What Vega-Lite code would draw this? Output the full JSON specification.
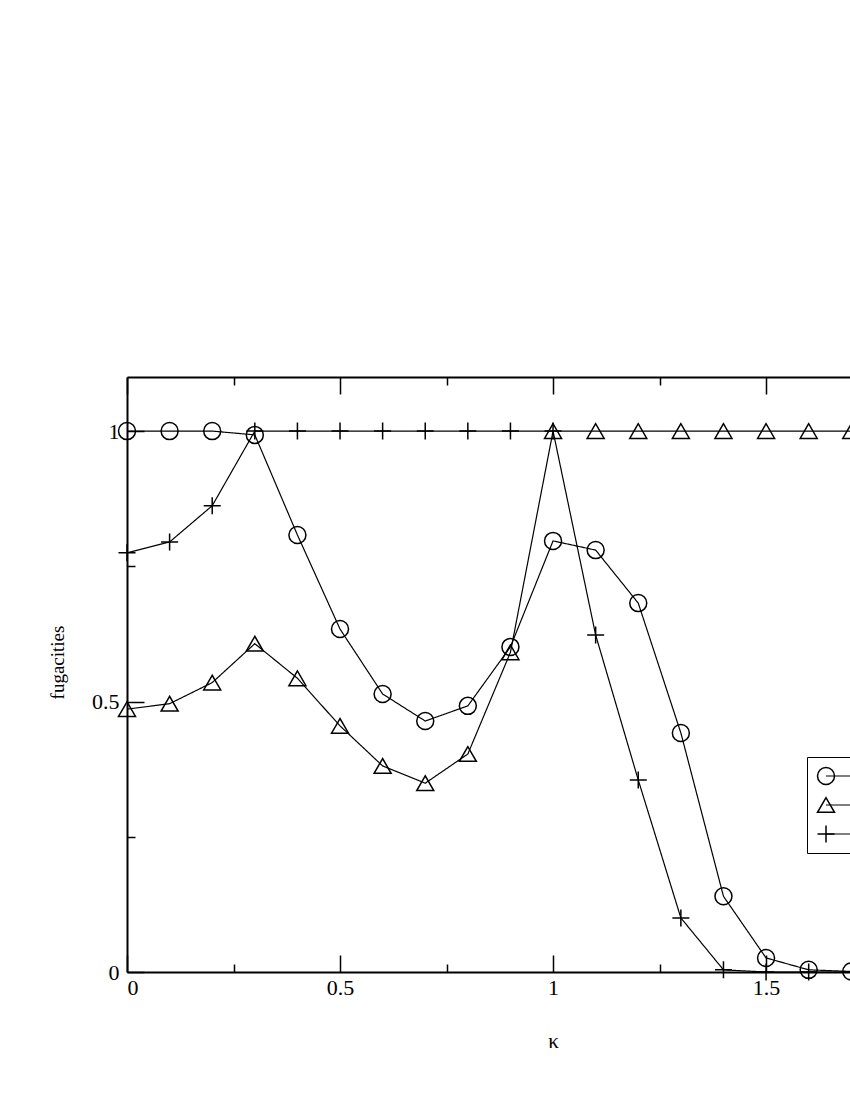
{
  "$schema": "https://vega.github.io/schema/vega-lite/v6.json",
  "autosize": {"type": "none"},
  "padding": {"left": 127, "top": 377, "right": 0, "bottom": 128},
  "width": 723,
  "height": 595,
  "background": "white",
  "config": {
    "view": {"stroke": null},
    "axis": {"grid": false, "tickColor": "black", "domainColor": "black", "labelColor": "black", "titleColor": "black", "labelFont": "Liberation Serif", "titleFont": "Liberation Serif", "titleFontWeight": "normal", "labelFontSize": 22, "titleFontSize": 19, "tickWidth": 1.5, "domainWidth": 2}
  },
  "data": {"values": [
    {"k": 0, "s": "z1", "f": 1}, {"k": 0.1, "s": "z1", "f": 1}, {"k": 0.2, "s": "z1", "f": 1}, {"k": 0.3, "s": "z1", "f": 0.993},
    {"k": 0.4, "s": "z1", "f": 0.808}, {"k": 0.5, "s": "z1", "f": 0.634}, {"k": 0.6, "s": "z1", "f": 0.514}, {"k": 0.7, "s": "z1", "f": 0.464},
    {"k": 0.8, "s": "z1", "f": 0.492}, {"k": 0.9, "s": "z1", "f": 0.601}, {"k": 1.0, "s": "z1", "f": 0.797}, {"k": 1.1, "s": "z1", "f": 0.78},
    {"k": 1.2, "s": "z1", "f": 0.682}, {"k": 1.3, "s": "z1", "f": 0.442}, {"k": 1.4, "s": "z1", "f": 0.14}, {"k": 1.5, "s": "z1", "f": 0.026},
    {"k": 1.6, "s": "z1", "f": 0.004}, {"k": 1.7, "s": "z1", "f": 0.001},
    {"k": 0, "s": "z2", "f": 0.486}, {"k": 0.1, "s": "z2", "f": 0.496}, {"k": 0.2, "s": "z2", "f": 0.535}, {"k": 0.3, "s": "z2", "f": 0.607},
    {"k": 0.4, "s": "z2", "f": 0.543}, {"k": 0.5, "s": "z2", "f": 0.455}, {"k": 0.6, "s": "z2", "f": 0.381}, {"k": 0.7, "s": "z2", "f": 0.349},
    {"k": 0.8, "s": "z2", "f": 0.403}, {"k": 0.9, "s": "z2", "f": 0.591}, {"k": 1.0, "s": "z2", "f": 1}, {"k": 1.1, "s": "z2", "f": 1},
    {"k": 1.2, "s": "z2", "f": 1}, {"k": 1.3, "s": "z2", "f": 1}, {"k": 1.4, "s": "z2", "f": 1}, {"k": 1.5, "s": "z2", "f": 1},
    {"k": 1.6, "s": "z2", "f": 1}, {"k": 1.7, "s": "z2", "f": 1},
    {"k": 0, "s": "z3", "f": 0.775}, {"k": 0.1, "s": "z3", "f": 0.795}, {"k": 0.2, "s": "z3", "f": 0.862}, {"k": 0.3, "s": "z3", "f": 1},
    {"k": 0.4, "s": "z3", "f": 1}, {"k": 0.5, "s": "z3", "f": 1}, {"k": 0.6, "s": "z3", "f": 1}, {"k": 0.7, "s": "z3", "f": 1},
    {"k": 0.8, "s": "z3", "f": 1}, {"k": 0.9, "s": "z3", "f": 1}, {"k": 1.0, "s": "z3", "f": 1}, {"k": 1.1, "s": "z3", "f": 0.623},
    {"k": 1.2, "s": "z3", "f": 0.355}, {"k": 1.3, "s": "z3", "f": 0.1}, {"k": 1.4, "s": "z3", "f": 0.004}, {"k": 1.5, "s": "z3", "f": 0},
    {"k": 1.6, "s": "z3", "f": 0}, {"k": 1.7, "s": "z3", "f": 0}
  ]},
  "resolve": {"axis": {"x": "independent", "y": "independent"}},
  "layer": [
    {
      "mark": {"type": "line", "color": "black", "strokeWidth": 1.2, "clip": false},
      "encoding": {
        "x": {"field": "k", "type": "quantitative", "scale": {"domain": [0, 1.697], "nice": false, "zero": false},
          "axis": {"orient": "bottom", "values": [0, 0.5, 1, 1.5], "format": "~g", "tickSize": -17, "tickWidth": 1.5, "tickColor": "black", "domainColor": "black", "domainWidth": 2,
            "labelPadding": 22, "labelFont": "Liberation Serif", "labelFontSize": 22, "labelColor": "black",
            "title": "κ", "titleFont": "Liberation Serif", "titleFontSize": 21, "titleFontWeight": "normal", "titleColor": "black", "titleX": 426, "titleY": 75, "titleBaseline": "alphabetic", "titleAnchor": null}},
        "y": {"field": "f", "type": "quantitative", "scale": {"domain": [0, 1.1], "nice": false},
          "axis": {"orient": "left", "values": [0, 0.5, 1], "format": "~g", "tickSize": -17, "tickWidth": 1.5, "tickColor": "black", "domainColor": "black", "domainWidth": 2,
            "labelPadding": 25, "labelFont": "Liberation Serif", "labelFontSize": 22, "labelColor": "black",
            "title": "fugacities", "titleFont": "Liberation Serif", "titleFontSize": 19, "titleFontWeight": "normal", "titleColor": "black", "titleX": -64, "titleY": 285, "titleBaseline": "alphabetic", "titleAngle": -90, "titleAlign": "center"}},
        "strokeDash": {"field": "s", "type": "nominal",
          "scale": {"range": [[1, 0], [1, 0], [1, 0]]},
          "legend": {"orient": "none", "legendX": 698, "legendY": 389, "title": null, "padding": 0, "strokeColor": null, "fillColor": null,
            "symbolType": "stroke", "symbolSize": 10000, "clipHeight": 20, "rowPadding": 9, "symbolStrokeColor": "black", "symbolStrokeWidth": 1.2,
            "labelExpr": "''", "labelFontSize": 20}}
      }
    },
    {
      "mark": {"type": "point", "filled": false, "color": "black", "strokeWidth": 1.5, "size": 289, "clip": false, "opacity": 1},
      "encoding": {
        "x": {"field": "k", "type": "quantitative", "axis": {"orient": "bottom", "values": [0.25, 0.75, 1.25, 1.75], "tickSize": -8, "tickWidth": 1.5, "tickColor": "black", "labels": false, "domain": false, "title": null}},
        "y": {"field": "f", "type": "quantitative", "axis": {"orient": "left", "values": [0.25, 0.75], "tickSize": -8, "tickWidth": 1.5, "tickColor": "black", "labels": false, "domain": false, "title": null}},
        "shape": {"field": "s", "type": "nominal",
          "scale": {"domain": ["z1", "z2", "z3"], "range": ["circle", "triangle-up", "M-1,0H1M0,-1V1"]},
          "legend": {"orient": "none", "legendX": 680, "legendY": 380, "title": null, "padding": 9, "strokeColor": "black", "fillColor": null, "symbolSize": 289, "clipHeight": 20, "rowPadding": 9,
            "symbolStrokeColor": "black", "symbolFillColor": "transparent", "symbolStrokeWidth": 1.5,
            "labelFont": "Liberation Serif", "labelFontSize": 20, "labelColor": "black", "labelOffset": 60}
        }
      }
    },
    {
      "mark": {"type": "point", "opacity": 0},
      "encoding": {
        "x": {"field": "k", "type": "quantitative", "axis": {"orient": "top", "values": [0, 0.5, 1, 1.5], "tickSize": -17, "tickWidth": 1.5, "tickColor": "black", "domainColor": "black", "domainWidth": 2, "labels": false, "title": null}},
        "y": {"field": "f", "type": "quantitative", "axis": null}
      }
    },
    {
      "mark": {"type": "point", "opacity": 0},
      "encoding": {
        "x": {"field": "k", "type": "quantitative", "axis": {"orient": "top", "values": [0.25, 0.75, 1.25, 1.75], "tickSize": -8, "tickWidth": 1.5, "tickColor": "black", "labels": false, "domain": false, "title": null}},
        "y": {"field": "f", "type": "quantitative", "axis": null}
      }
    }
  ]
}
